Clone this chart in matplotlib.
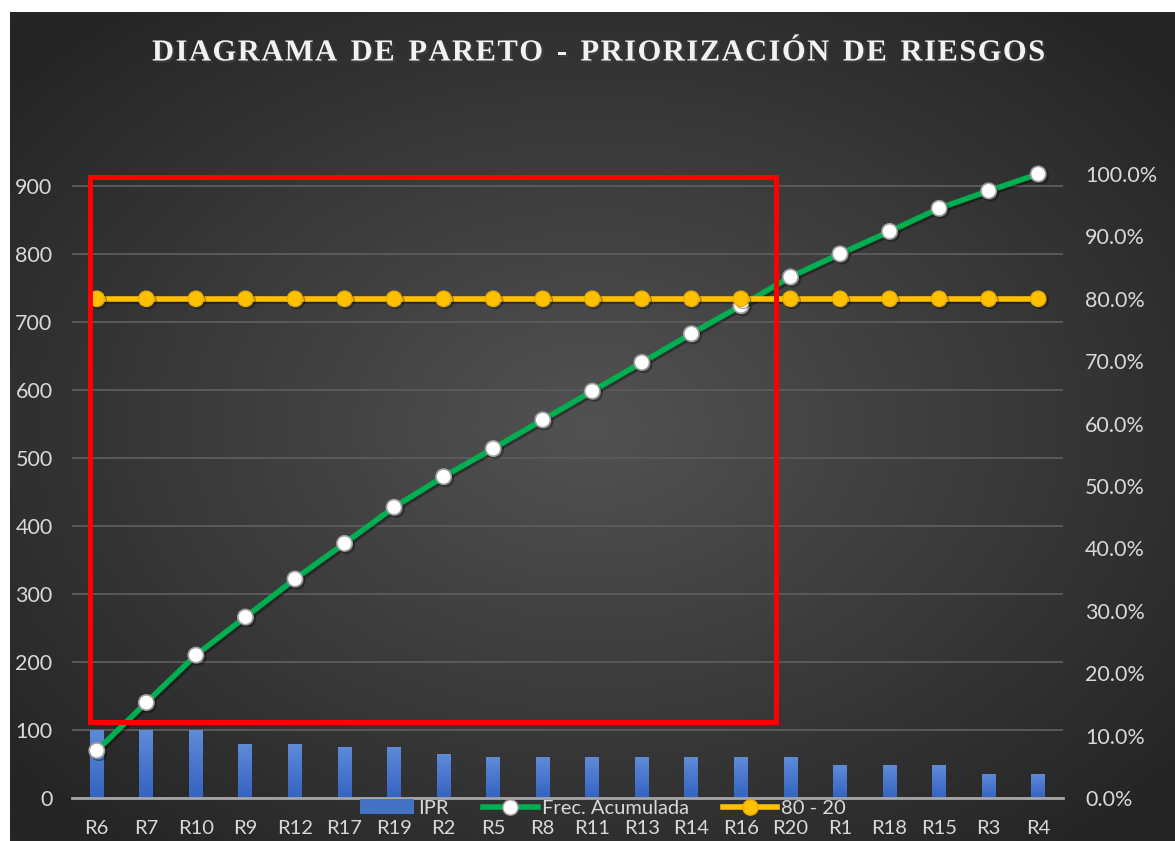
import numpy as np
import matplotlib
matplotlib.use("Agg")
import matplotlib.pyplot as plt
from matplotlib.patches import Rectangle, Patch
from matplotlib.lines import Line2D
from matplotlib.ticker import FuncFormatter, MultipleLocator
import matplotlib.patheffects as pe

# Datos del diagrama de Pareto
riesgos = ['R6', 'R7', 'R10', 'R9', 'R12', 'R17', 'R19', 'R2', 'R5', 'R8',
           'R11', 'R13', 'R14', 'R16', 'R20', 'R1', 'R18', 'R15', 'R3', 'R4']
ipr = [100, 100, 100, 80, 80, 75, 75, 64, 60, 60,
       60, 60, 60, 60, 60, 48, 48, 48, 36, 36]
frec_acumulada = [7.6, 15.3, 22.9, 29.0, 35.1, 40.8, 46.6, 51.5, 56.0, 60.6,
                  65.2, 69.8, 74.4, 78.9, 83.5, 87.2, 90.8, 94.5, 97.3, 100.0]
linea_80_20 = [80, 80, 80, 80, 80, 80, 80, 80, 80, 80,
               80, 80, 80, 80, 80, 80, 80, 80, 80, 80]

titulo = "DIAGRAMA DE PARETO - PRIORIZACIÓN DE RIESGOS"

plt.rcParams['font.family'] = ['Lato', 'DejaVu Sans']
txt_color = '#d9d9d9'

fig = plt.figure(figsize=(11.75, 8.41), dpi=100)
fig.patch.set_facecolor('white')

# Fondo con degradado radial
bg = fig.add_axes([10 / 1175, 0, 1 - 10 / 1175, 1 - 12 / 841], zorder=-10)
gx, gy = np.meshgrid(np.linspace(-1, 1, 400), np.linspace(-1, 1, 300))
r = np.clip(np.sqrt(gx ** 2 + gy ** 2) / 1.3, 0, 1)
c0 = np.array([0x52, 0x52, 0x52]) / 255
c1 = np.array([0x25, 0x25, 0x25]) / 255
img = c0[None, None, :] * (1 - r[..., None]) + c1[None, None, :] * r[..., None]
bg.imshow(img, aspect='auto', extent=[0, 1, 0, 1])
bg.axis('off')

ax = fig.add_axes([72 / 1175, 43 / 841, 991 / 1175, 624 / 841])
ax.patch.set_alpha(0)
x = np.arange(len(riesgos))

barras = ax.bar(x, ipr, width=0.28, color='#4472c4', zorder=2)
grad = np.linspace(0, 1, 100)[:, None]
cmap = matplotlib.colors.LinearSegmentedColormap.from_list('b', ['#3463c2', '#5f8bd8'])
for b in barras:
    im = ax.imshow(grad, cmap=cmap, origin='lower', aspect='auto', zorder=2.1,
                   extent=[b.get_x(), b.get_x() + b.get_width(), 0, b.get_height()])
    im.set_clip_path(b)

ax.set_xlim(-0.5, len(riesgos) - 0.5)
ax.set_ylim(0, 917.6)
ax.yaxis.set_major_locator(MultipleLocator(100))
ax.grid(axis='y', color='#5a5a5a', linewidth=1.4, zorder=0)
ax.set_axisbelow(True)
for s in ['top', 'left', 'right']:
    ax.spines[s].set_visible(False)
ax.spines['bottom'].set_color('#a6a6a6')
ax.spines['bottom'].set_linewidth(2)
ax.set_xticks(x)
ax.set_xticklabels(riesgos)
ax.tick_params(axis='x', length=0, pad=16, labelsize=14.5, colors=txt_color)
ax.tick_params(axis='y', length=0, pad=14, labelsize=15.5, colors=txt_color)

ax2 = ax.twinx()
ax2.set_ylim(0, 100)
ax2.yaxis.set_major_locator(MultipleLocator(10))
ax2.yaxis.set_major_formatter(FuncFormatter(lambda v, p: f'{v:.1f}%'))
ax2.tick_params(axis='y', length=0, pad=16, labelsize=15.5, colors=txt_color)
for s in ax2.spines.values():
    s.set_visible(False)

sombra = [pe.SimpleLineShadow(offset=(1.5, -1.5), alpha=0.35), pe.Normal()]
ax2.plot(x, frec_acumulada, color='#00b050', linewidth=4, marker='o',
         markersize=11, markerfacecolor='white', markeredgecolor='#a0a0a0',
         markeredgewidth=1.2, zorder=3, path_effects=sombra, clip_on=False)
ax2.plot(x, linea_80_20, color='#ffc000', linewidth=4, marker='o',
         markersize=11, markerfacecolor='#ffc000', markeredgecolor='#e8ae00',
         markeredgewidth=1, zorder=4, path_effects=sombra, clip_on=False)

# Recuadro rojo
rect = Rectangle((-0.13, 111.8), 13.84, 801.2, transform=ax.transData,
                 fill=False, edgecolor='#ff0000', linewidth=3.6,
                 zorder=6, clip_on=False)
ax2.add_patch(rect)

handles = [Patch(facecolor='#4472c4'),
           Line2D([], [], color='#00b050', linewidth=4, marker='o', markersize=11,
                  markerfacecolor='white', markeredgecolor='#a0a0a0'),
           Line2D([], [], color='#ffc000', linewidth=4, marker='o', markersize=11,
                  markerfacecolor='#ffc000', markeredgecolor='#e8ae00')]
leg = fig.legend(handles, ['IPR', 'Frec. Acumulada', '80 - 20'], loc='center',
                 bbox_to_anchor=(603 / 1175, 1 - 808 / 841), ncol=3, frameon=False,
                 fontsize=14.5, labelcolor=txt_color, handlelength=2.7,
                 handletextpad=0.2, columnspacing=1.7, numpoints=1,
                 handleheight=0.7)

# Titulo con espaciado entre letras
renderer = fig.canvas.get_renderer()
fuente = dict(family=['Liberation Serif', 'DejaVu Serif'], fontweight='bold',
              fontsize=22, color='#f2f2f2', va='center', ha='left',
              path_effects=[pe.withSimplePatchShadow(offset=(1.5, -1.5), alpha=0.5)])
letras = []
anchos = []
for ch in titulo:
    t = fig.text(0, 0, ch if ch != ' ' else 'I', **fuente)
    w = t.get_window_extent(renderer).width
    if ch == ' ':
        w *= 0.9
        t.set_visible(False)
    letras.append(t)
    anchos.append(w)
x0, x1 = 152, 1045
extra = (x1 - x0 - sum(anchos)) / (len(titulo) - 1)
pos = x0
for t, w in zip(letras, anchos):
    t.set_position((pos / 1175, 1 - 53 / 841))
    pos += w + extra

fig.savefig('out.png', dpi=100)
